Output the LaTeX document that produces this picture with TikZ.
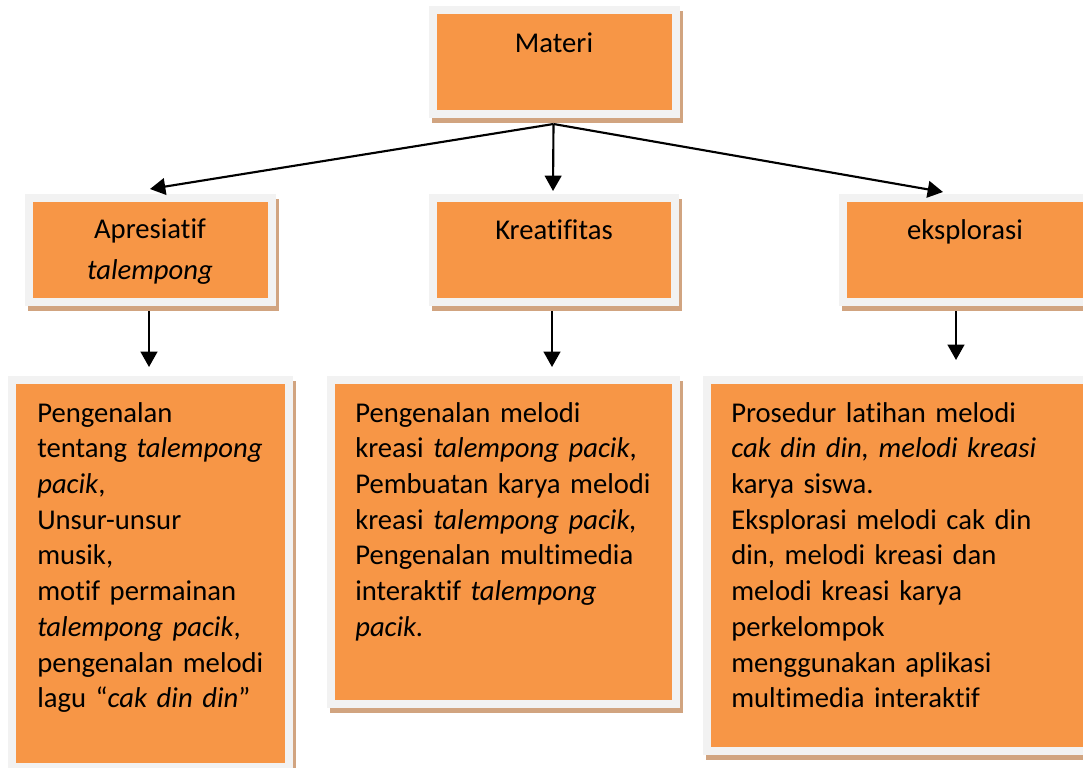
\documentclass[tikz,border=0pt]{standalone}
\usepackage{fontspec}
\setmainfont[Ligatures=NoCommon]{Carlito}
\usetikzlibrary{arrows.meta,backgrounds,calc}
\definecolor{cardorange}{HTML}{F79646}
\definecolor{cardrim}{HTML}{F2F2F2}
\definecolor{cardshade}{RGB}{209,164,128}

\begin{document}
\begin{tikzpicture}[x=0.75pt,y=-0.75pt,
  card/.style={rectangle, fill=cardorange, draw=cardrim, line width=6pt,
    outer sep=3pt, inner sep=0pt},
  head/.style={font=\fontsize{21.5}{30.75}\selectfont, text width=170pt,
    align=center, anchor=base, inner sep=0pt},
  body/.style={font=\fontsize{21.5}{26.8}\selectfont, text width=250pt,
    align=left, anchor=base west, inner sep=0pt},
  link/.style={line width=1.6pt, -{Triangle[length=11.5pt,width=12.5pt]}}
]
\useasboundingbox (0,0) rectangle (1083,768);
\clip (0,0) rectangle (1083,768);

% boxes
\node[card, minimum width=182.25pt, minimum height=78pt] (materi) at (554.5,62) {};
\node[card, minimum width=182.25pt, minimum height=78pt] (apr) at (150.5,250) {};
\node[card, minimum width=181.5pt, minimum height=78pt] (kre) at (554,250) {};
\node[card, minimum width=183pt, minimum height=78pt] (eks) at (965,250) {};
\node[card, minimum width=207.75pt, minimum height=290.25pt] (lowL) at (150.5,573.5) {};
\node[card, minimum width=258.75pt, minimum height=243pt] (lowM) at (503.5,542) {};
\node[card, minimum width=288pt, minimum height=278.25pt] (lowR) at (899,565.5) {};

% drop shadows behind the boxes
\begin{scope}[on background layer]
  \foreach \n in {materi,apr,kre,eks,lowL,lowM,lowR}
    \fill[cardshade] ([shift={(3,5)}]\n.north west) rectangle ([shift={(3,5)}]\n.south east);
\end{scope}

% headings
\node[head] (materi-t) at (554,52) {Materi};
\node[head] (apr-t) at (150,238) {Apresiatif\\\textit{talempong}};
\node[head] (kre-t) at (554,239) {Kreatifitas};
\node[head] (eks-t) at (965,239) {eksplorasi};

% details
\node[body] (lowL-t) at (37,422) {Pengenalan\\
  tentang \textit{talempong}\\
  \textit{pacik},\\
  Unsur-unsur\\
  musik,\\
  motif permainan\\
  \textit{talempong pacik},\\
  pengenalan melodi\\
  lagu “\textit{cak din din}”};
\node[body] (lowM-t) at (355,422) {Pengenalan melodi\\
  kreasi \textit{talempong pacik},\\
  Pembuatan karya melodi\\
  kreasi \textit{talempong pacik,}\\
  Pengenalan multimedia\\
  interaktif \textit{talempong}\\
  \textit{pacik.}};
\node[body] (lowR-t) at (731,422) {Prosedur latihan melodi\\
  \textit{cak din din, melodi kreasi}\\
  karya siswa.\\
  Eksplorasi melodi cak din\\
  din, melodi kreasi dan\\
  melodi kreasi karya\\
  perkelompok\\
  menggunakan aplikasi\\
  multimedia interaktif};

% connectors
\coordinate (hub) at ($(materi.south)+(-1,6)$);
\draw[link] (hub) -- ($(apr.north)+(-0.5,-5)$);
\draw[link] (hub) -- ($(kre.north)+(-1,-3)$);
\draw[link] (hub) -- ($(eks.north)+(-22,-2)$);
\draw[link] ($(apr.south)+(-1.5,5)$) -- ($(apr.south |- lowL.north)+(-1.5,-9)$);
\draw[link] ($(kre.south)+(-2,5)$) -- ($(kre.south |- lowM.north)+(-2,-9)$);
\draw[link] ($(eks.south)+(-9,5)$) -- ($(eks.south |- lowR.north)+(-9,-16)$);
\end{tikzpicture}
\end{document}
